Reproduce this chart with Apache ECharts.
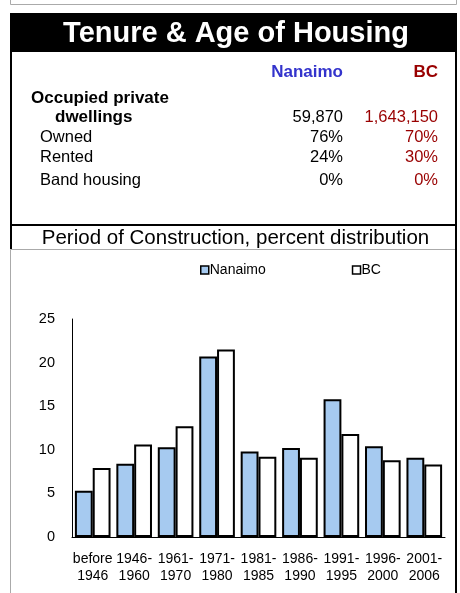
<!DOCTYPE html>
<html>
<head>
<meta charset="utf-8">
<style>
  html, body { margin: 0; padding: 0; background: #fff; }
  #chart { width: 460px; height: 593px; }
</style>
<script src="https://cdn.jsdelivr.net/npm/echarts@6/dist/echarts.min.js"></script>
</head>
<body>
<div id="chart"></div>
<script>
// 表格数据
const tableRows = ['Owned', 'Rented', 'Band housing'];
const nanaimoTable = ['59,870', '76%', '24%', '0%'];
const bcTable = ['1,643,150', '70%', '30%', '0%'];

// 柱状图数据
const periods = ['before\n1946', '1946-\n1960', '1961-\n1970', '1971-\n1980', '1981-\n1985',
  '1986-\n1990', '1991-\n1995', '1996-\n2000', '2001-\n2006'];
const nanaimoValues = [5.3, 8.4, 10.3, 20.7, 9.8, 10.2, 15.8, 10.4, 9.1];
const bcValues = [7.9, 10.6, 12.7, 21.5, 9.2, 9.1, 11.8, 8.8, 8.3];
const yTicks = [0, 5, 10, 15, 20, 25];

const font = 'Liberation Sans, Arial, sans-serif';
const blue = '#3333cc';
const red = '#990000';

const chartInstance = echarts.init(document.getElementById('chart'));

// 框线和文字
const graphics = [
  // 上一块的底边
  { type: 'polyline', shape: { points: [[10.5, 0], [10.5, 4.5], [456.5, 4.5], [456.5, 0]] }, style: { stroke: '#aaa', lineWidth: 1, fill: null } },
  // 标题黑底
  { type: 'rect', shape: { x: 10, y: 13, width: 447, height: 39 }, style: { fill: '#000' } },
  { type: 'text', x: 236, y: 34, style: { text: 'Tenure & Age of Housing', font: 'bold 29px ' + font, fill: '#fff', align: 'center', verticalAlign: 'middle' } },
  // 左右黑边
  { type: 'rect', shape: { x: 10, y: 52, width: 2, height: 197 }, style: { fill: '#000' } },
  { type: 'rect', shape: { x: 455, y: 52, width: 2, height: 541 }, style: { fill: '#000' } },
  { type: 'rect', shape: { x: 10, y: 224, width: 447, height: 2 }, style: { fill: '#000' } },
  { type: 'line', shape: { x1: 10.5, y1: 249.5, x2: 455, y2: 249.5 }, style: { stroke: '#aaa', lineWidth: 1 } },
  { type: 'line', shape: { x1: 10.5, y1: 249.5, x2: 10.5, y2: 593 }, style: { stroke: '#aaa', lineWidth: 1 } },
  // 表头
  { type: 'text', x: 343, y: 72, style: { text: 'Nanaimo', font: 'bold 17px ' + font, fill: blue, align: 'right', verticalAlign: 'middle' } },
  { type: 'text', x: 438, y: 72, style: { text: 'BC', font: 'bold 17px ' + font, fill: red, align: 'right', verticalAlign: 'middle' } },
  { type: 'text', x: 31, y: 98, style: { text: 'Occupied private', font: 'bold 17px ' + font, fill: '#000', verticalAlign: 'middle' } },
  { type: 'text', x: 55, y: 117, style: { text: 'dwellings', font: 'bold 17px ' + font, fill: '#000', verticalAlign: 'middle' } },
  // 副标题
  { type: 'text', x: 235.5, y: 238, style: { text: 'Period of Construction, percent distribution', font: '20.5px ' + font, fill: '#000', align: 'center', verticalAlign: 'middle' } }
];

const rowY = [117, 137, 157, 180];
tableRows.forEach((name, i) => {
  graphics.push({ type: 'text', x: 40, y: rowY[i + 1], style: { text: name, font: '16.5px ' + font, fill: '#000', verticalAlign: 'middle' } });
});
nanaimoTable.forEach((v, i) => {
  graphics.push({ type: 'text', x: 343, y: rowY[i], style: { text: v, font: '16.5px ' + font, fill: '#000', align: 'right', verticalAlign: 'middle' } });
});
bcTable.forEach((v, i) => {
  graphics.push({ type: 'text', x: 438, y: rowY[i], style: { text: v, font: '16.5px ' + font, fill: red, align: 'right', verticalAlign: 'middle' } });
});

const option = {
  animation: false,
  textStyle: { fontFamily: font },
  graphic: graphics,
  legend: {
    left: 195,
    top: 258,
    itemWidth: 8,
    itemHeight: 8,
    itemGap: 86,
    icon: 'rect',
    textStyle: { fontSize: 14, color: '#000', padding: [0, 0, 0, -4] },
    itemStyle: { borderColor: '#000', borderWidth: 1.5 },
    data: ['Nanaimo', 'BC']
  },
  grid: { left: 72, right: 15, top: 319, bottom: 56 },
  xAxis: {
    type: 'category',
    data: periods,
    axisLine: { show: true, lineStyle: { color: '#000', width: 1 } },
    axisTick: { show: false },
    axisLabel: { interval: 0, fontSize: 14, color: '#000', lineHeight: 17, margin: 14 }
  },
  yAxis: {
    type: 'value',
    min: yTicks[0],
    max: yTicks[yTicks.length - 1],
    interval: 5,
    axisLine: { show: true, lineStyle: { color: '#000', width: 1 } },
    axisTick: { show: false },
    splitLine: { show: false },
    axisLabel: { fontSize: 14.5, color: '#000', margin: 17 }
  },
  series: [
    {
      name: 'Nanaimo',
      type: 'bar',
      data: nanaimoValues,
      barGap: 0,
      barCategoryGap: '14%',
      itemStyle: { color: '#a6caf0', borderColor: '#000', borderWidth: 2 }
    },
    {
      name: 'BC',
      type: 'bar',
      data: bcValues,
      itemStyle: { color: '#fff', borderColor: '#000', borderWidth: 2 }
    }
  ]
};
chartInstance.setOption(option);
</script>
</body>
</html>
